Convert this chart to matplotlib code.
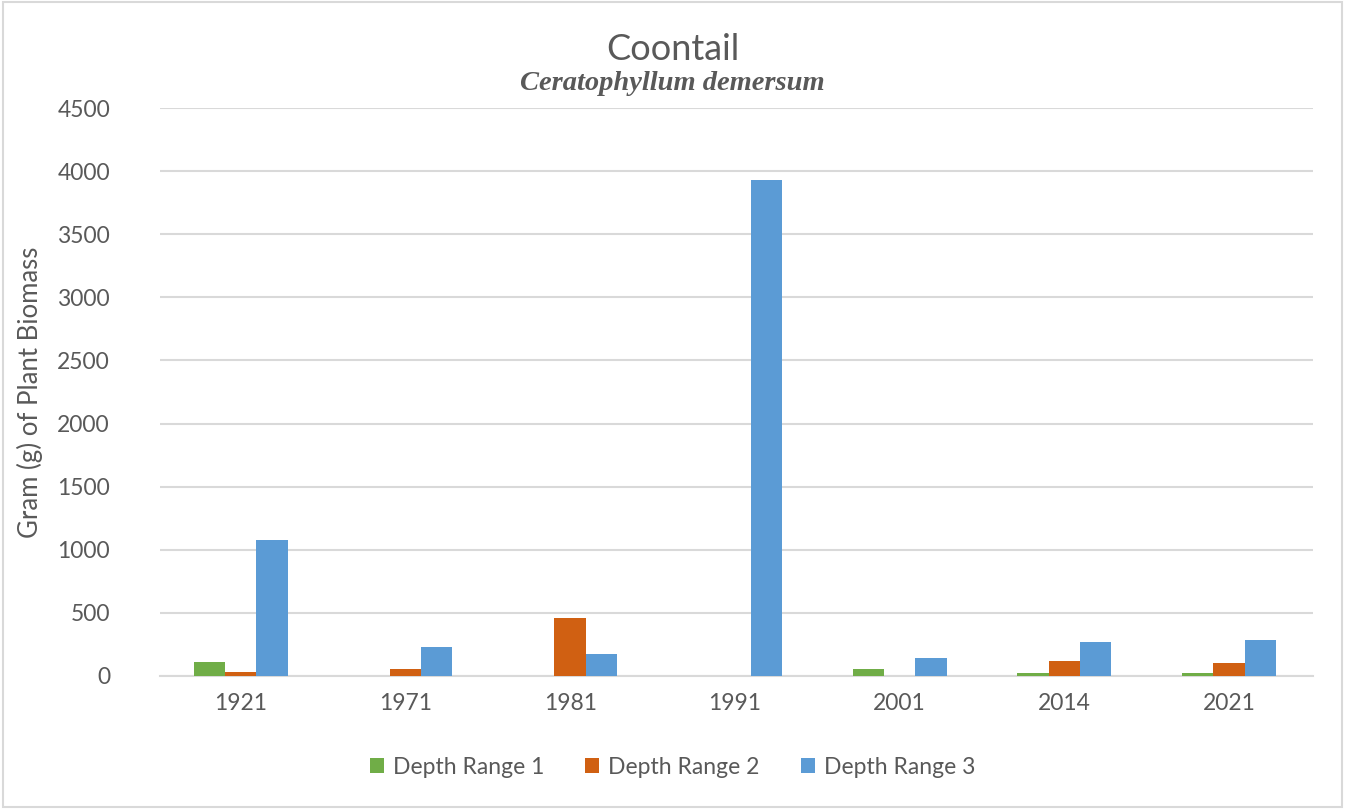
import numpy as np
import matplotlib.pyplot as plt
from matplotlib.patches import Rectangle

years = ['1921', '1971', '1981', '1991', '2001', '2014', '2021']
depth1 = [110, 0, 0, 0, 53, 20, 20]
depth2 = [30, 53, 459, 0, 0, 121, 100]
depth3 = [1080, 227, 175, 3930, 140, 272, 283]

plt.rcParams['font.family'] = ['Lato', 'DejaVu Sans']
grey = '#595959'

fig = plt.figure(figsize=(13.45, 8.09), dpi=100)
ax = fig.add_axes([160/1345, 1-676/809, 1153/1345, 568/809])

x = np.arange(len(years))
w = 0.19
ax.bar(x - w, depth1, w, color='#70AD47', label='Depth Range 1', zorder=3)
ax.bar(x, depth2, w, color='#D06012', label='Depth Range 2', zorder=3)
ax.bar(x + w, depth3, w, color='#5B9BD5', label='Depth Range 3', zorder=3)

ax.set_xlim(-0.49, 6.51)
ax.set_ylim(0, 4500)
ax.set_yticks(np.arange(0, 4501, 500))
ax.set_xticks(x)
ax.set_xticklabels(years)
ax.grid(axis='y', color='#D9D9D9', linewidth=1.5, zorder=0)
for s in ['top', 'right', 'left']:
    ax.spines[s].set_visible(False)
ax.spines['bottom'].set_color('#D9D9D9')
ax.spines['bottom'].set_linewidth(1.5)
ax.tick_params(length=0, labelsize=16.5, labelcolor=grey, pad=12)
ax.tick_params(axis='y', pad=36)
ax.set_ylabel('Gram (g) of Plant Biomass', fontsize=18.5, color=grey)
ax.yaxis.set_label_coords(-117/1153, 0.5)

fig.text(0.5, 1-50/809, 'Coontail', ha='center', va='center', fontsize=26, color=grey)
fig.text(0.5, 1-84/809, 'Ceratophyllum demersum', ha='center', va='center',
         fontsize=20.5, color=grey, family='Liberation Serif', style='italic', weight='bold')

fig.legend(loc='center', bbox_to_anchor=(0.5, 1-767/809), ncol=3, frameon=False,
           fontsize=16.5, labelcolor=grey, handlelength=0.6, handleheight=0.6,
           handletextpad=0.4, columnspacing=1.8)

fig.patches.append(Rectangle((0.002, 0.002), 0.996, 0.996, transform=fig.transFigure,
                             fill=False, edgecolor='#D9D9D9', linewidth=1.5))

fig.savefig('out.png', dpi=100)
